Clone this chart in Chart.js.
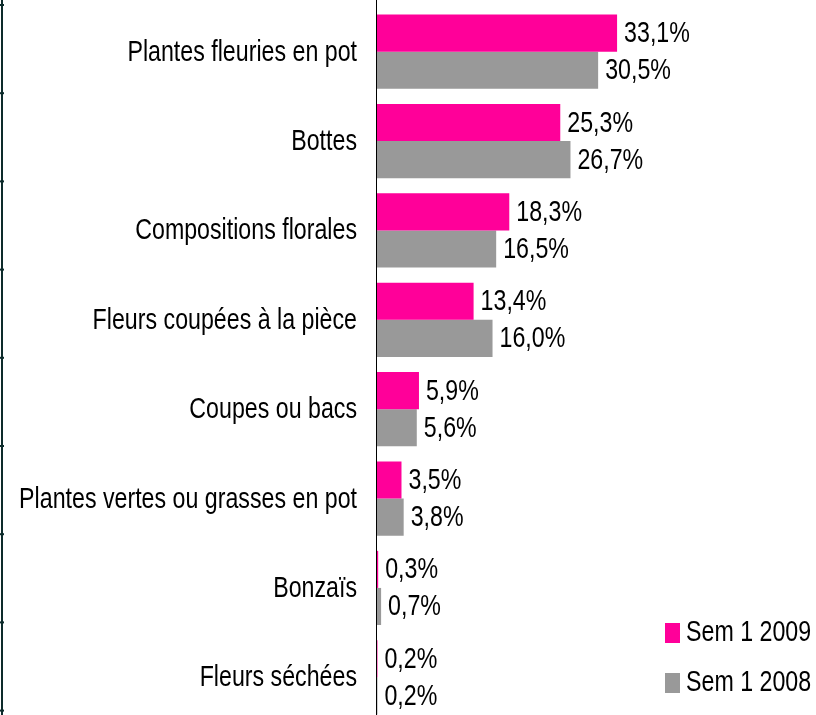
<!DOCTYPE html>
<html>
<head>
<meta charset="utf-8">
<script src="https://cdn.jsdelivr.net/npm/chart.js@4.4.1/dist/chart.umd.min.js"></script>
<style>
  html, body { margin: 0; padding: 0; background: #fff; overflow: hidden; }
  #wrap { width: 816px; height: 722px; position: relative; }
</style>
</head>
<body>
<div id="wrap"><canvas id="barChart"></canvas></div>
<script>
const categories = ["Plantes fleuries en pot", "Bottes", "Compositions florales", "Fleurs coupées à la pièce",
    "Coupes ou bacs", "Plantes vertes ou grasses en pot", "Bonzaïs", "Fleurs séchées"]
const sem2009 = [33.1, 25.3, 18.3, 13.4, 5.9, 3.5, 0.3, 0.2]
const sem2008 = [30.5, 26.7, 16.5, 16.0, 5.6, 3.8, 0.7, 0.2]
const seriesNames = ["Sem 1 2009", "Sem 1 2008"]
const seriesColors = ["#ff0099", "#999999"]

// no narrow font installed, so squeeze Liberation Sans horizontally
const FONT = "29px 'Liberation Sans', Arial, sans-serif"
const SQUEEZE = 0.8

function narrowText(ctx, txt, x, y, align) {
    ctx.save()
    ctx.translate(x, y)
    ctx.scale(SQUEEZE, 1)
    ctx.font = FONT
    ctx.fillStyle = "#000"
    ctx.textBaseline = "middle"
    ctx.textAlign = align
    ctx.fillText(txt, 0, 0)
    ctx.restore()
}

// category names, placed by the y scale
const categoryLabels = {
    id: "categoryLabels",
    afterDraw(chart) {
        const yScale = chart.scales.y
        categories.forEach((c, i) => {
            narrowText(chart.ctx, c, chart.chartArea.left - 19, yScale.getPixelForValue(i) + 1, "right")
        })
    }
}

// value labels like "33,1%" just right of each bar
const valueLabels = {
    id: "valueLabels",
    afterDatasetsDraw(chart) {
        chart.data.datasets.forEach((ds, i) => {
            chart.getDatasetMeta(i).data.forEach((bar, j) => {
                let txt = ds.data[j].toFixed(1).replace(".", ",") + "%"
                narrowText(chart.ctx, txt, bar.x + 7, bar.y + 1, "left")
            })
        })
    }
}

// legend in the bottom right corner
const cornerLegend = {
    id: "cornerLegend",
    afterDraw(chart) {
        const ctx = chart.ctx
        chart.data.datasets.forEach((ds, i) => {
            let x = chart.width - 151
            let y = chart.height - 99 + i * 50
            ctx.fillStyle = ds.backgroundColor
            ctx.fillRect(x, y, 15, 20)
            narrowText(ctx, ds.label, x + 21, y + 10, "left")
        })
    }
}

// axis line over full height + the cut-off frame on the far left
const axisLines = {
    id: "axisLines",
    afterDraw(chart) {
        const ctx = chart.ctx
        const area = chart.chartArea
        ctx.save()
        ctx.strokeStyle = "#000"
        ctx.lineWidth = 1
        ctx.beginPath()
        ctx.moveTo(area.left + 0.5, 0)
        ctx.lineTo(area.left + 0.5, chart.height)
        ctx.stroke()

        ctx.strokeStyle = "#0d2b2b"
        ctx.lineWidth = 2
        ctx.beginPath()
        ctx.moveTo(2, 0)
        ctx.lineTo(2, chart.height)
        ctx.stroke()
        for (let y = 5; y < chart.height; y += 88.2) {
            ctx.beginPath()
            ctx.moveTo(0, y)
            ctx.lineTo(4, y)
            ctx.stroke()
        }
        ctx.restore()
    }
}

new Chart(document.getElementById("barChart"), {
    type: "bar",
    data: {
        labels: categories,
        datasets: [{
            label: seriesNames[0],
            data: sem2009,
            backgroundColor: seriesColors[0],
            categoryPercentage: 0.83,
            barPercentage: 1.0
        }, {
            label: seriesNames[1],
            data: sem2008,
            backgroundColor: seriesColors[1],
            categoryPercentage: 0.83,
            barPercentage: 1.0
        }]
    },
    options: {
        indexAxis: "y",
        responsive: true,
        maintainAspectRatio: false,
        animation: false,
        layout: {
            padding: { top: 7, right: 3, bottom: 0, left: 0 }
        },
        scales: {
            x: {
                display: false,
                min: 0,
                max: 60
            },
            y: {
                grid: { display: false },
                border: { display: false },
                ticks: { display: false },
                afterFit: (scale) => {
                    scale.width = 376
                    scale.paddingTop = 0
                    scale.paddingBottom = 0
                }
            }
        },
        plugins: {
            legend: { display: false },
            tooltip: { enabled: false }
        }
    },
    plugins: [valueLabels, categoryLabels, cornerLegend, axisLines]
})
</script>
</body>
</html>
